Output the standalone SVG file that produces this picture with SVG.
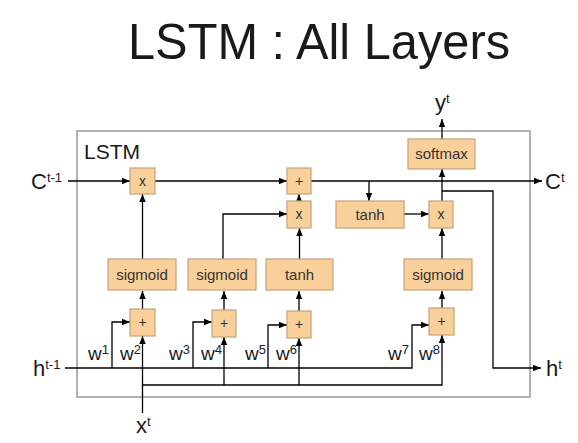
<svg xmlns="http://www.w3.org/2000/svg" width="578" height="443" viewBox="0 0 578 443">
<defs>
<marker id="ah" markerUnits="userSpaceOnUse" markerWidth="8" markerHeight="8" viewBox="0 0 8 8" refX="8" refY="4" orient="auto">
<path d="M0,0.8 L8,4 L0,7.2 Z" fill="#000"/>
</marker>
<style>
.t{font-family:"Liberation Sans",Arial,sans-serif;fill:#1a1a1a}
.box{fill:#fad09a;stroke:#c4a27c;stroke-width:1.2}
.c{fill:none;stroke:#000;stroke-width:1.3}
.a{marker-end:url(#ah)}
.bl{font-size:15px;text-anchor:middle;fill:#333}
.op{font-size:14px;text-anchor:middle;fill:#333}
.big{font-size:22px}
.sup{font-size:13px}
.w{font-size:19px}
.ws{font-size:13px}
</style>
</defs>
<rect width="578" height="443" fill="#fff"/>
<text class="t" x="319" y="59" font-size="50" text-anchor="middle" textLength="382" lengthAdjust="spacingAndGlyphs">LSTM : All Layers</text>
<g id="lstm-frame">
<rect x="77" y="131" width="453" height="266" fill="none" stroke="#999" stroke-width="1.5"/>
<text class="t" x="84" y="159" font-size="21">LSTM</text>
</g>
<g id="connectors">
<path class="c a" d="M68,181 H130"/>
<path class="c a" d="M155,181 H287"/>
<path class="c a" d="M311,181 H542"/>
<path class="c a" d="M299,201 V194"/>
<path class="c a" d="M142.5,259 V194"/>
<path class="c a" d="M223,259 V214 H287"/>
<path class="c a" d="M299.5,259 V228"/>
<path class="c a" d="M369,181 V201"/>
<path class="c a" d="M404,214 H429"/>
<path class="c a" d="M442,259 V228"/>
<path class="c a" d="M442,201 V169"/>
<path class="c a" d="M442,191 H493 V368 H541"/>
<path class="c a" d="M442,139 V119"/>
<path class="c a" d="M65,368 H412 V325 H429"/>
<path class="c a" d="M112,368 V322 H130"/>
<path class="c a" d="M193,368 V322 H212"/>
<path class="c a" d="M268,368 V325 H287"/>
<path class="c a" d="M142.5,413 V336"/>
<path class="c a" d="M142.5,385 H442 V335"/>
<path class="c a" d="M224,385 V337"/>
<path class="c a" d="M299,385 V338"/>
<path class="c a" d="M142.5,309 V291"/>
<path class="c a" d="M224,310 V291"/>
<path class="c a" d="M299,311 V291"/>
<path class="c a" d="M442,308 V291"/>
</g>
<g id="mul1"><rect class="box" x="130" y="168" width="25" height="26"/><text class="t op" x="142.5" y="186">x</text></g>
<g id="add-cell"><rect class="box" x="287" y="168" width="24" height="26"/><text class="t op" x="299" y="186">+</text></g>
<g id="mul2"><rect class="box" x="287" y="201" width="24" height="27"/><text class="t op" x="299" y="219">x</text></g>
<g id="tanh-cell"><rect class="box" x="336" y="201" width="68" height="27"/><text class="t bl" x="370" y="220">tanh</text></g>
<g id="mul3"><rect class="box" x="429" y="201" width="24" height="27"/><text class="t op" x="441" y="219">x</text></g>
<g id="softmax"><rect class="box" x="408" y="139" width="67" height="30"/><text class="t bl" x="441.5" y="159">softmax</text></g>
<g id="sigmoid1"><rect class="box" x="108" y="259" width="68" height="31"/><text class="t bl" x="142" y="280">sigmoid</text></g>
<g id="sigmoid2"><rect class="box" x="188" y="259" width="68" height="31"/><text class="t bl" x="222" y="280">sigmoid</text></g>
<g id="tanh2"><rect class="box" x="266" y="259" width="67" height="31"/><text class="t bl" x="299.5" y="280">tanh</text></g>
<g id="sigmoid3"><rect class="box" x="404" y="259" width="68" height="31"/><text class="t bl" x="438" y="280">sigmoid</text></g>
<g id="add1"><rect class="box" x="130" y="309" width="25" height="27"/><text class="t op" x="142.5" y="327">+</text></g>
<g id="add2"><rect class="box" x="212" y="310" width="24" height="27"/><text class="t op" x="224" y="328">+</text></g>
<g id="add3"><rect class="box" x="287" y="311" width="24" height="27"/><text class="t op" x="299" y="329">+</text></g>
<g id="add4"><rect class="box" x="429" y="308" width="25" height="27"/><text class="t op" x="441.5" y="326">+</text></g>
<g id="labels">
<text class="t big" x="31" y="189">C<tspan class="sup" dy="-7">t-1</tspan></text>
<text class="t big" x="545" y="189">C<tspan class="sup" dy="-7">t</tspan></text>
<text class="t big" x="33" y="376">h<tspan class="sup" dy="-7">t-1</tspan></text>
<text class="t big" x="546" y="376">h<tspan class="sup" dy="-7">t</tspan></text>
<text class="t big" x="435" y="110">y<tspan class="sup" dy="-7">t</tspan></text>
<text class="t big" x="136" y="433">x<tspan class="sup" dy="-7">t</tspan></text>
<text class="t w" x="88" y="360">w<tspan class="ws" dy="-6">1</tspan></text>
<text class="t w" x="120" y="360">w<tspan class="ws" dy="-6">2</tspan></text>
<text class="t w" x="169" y="360">w<tspan class="ws" dy="-6">3</tspan></text>
<text class="t w" x="201" y="360">w<tspan class="ws" dy="-6">4</tspan></text>
<text class="t w" x="245" y="360">w<tspan class="ws" dy="-6">5</tspan></text>
<text class="t w" x="276" y="360">w<tspan class="ws" dy="-6">6</tspan></text>
<text class="t w" x="388" y="360">w<tspan class="ws" dy="-6">7</tspan></text>
<text class="t w" x="419" y="360">w<tspan class="ws" dy="-6">8</tspan></text>
</g>
</svg>
